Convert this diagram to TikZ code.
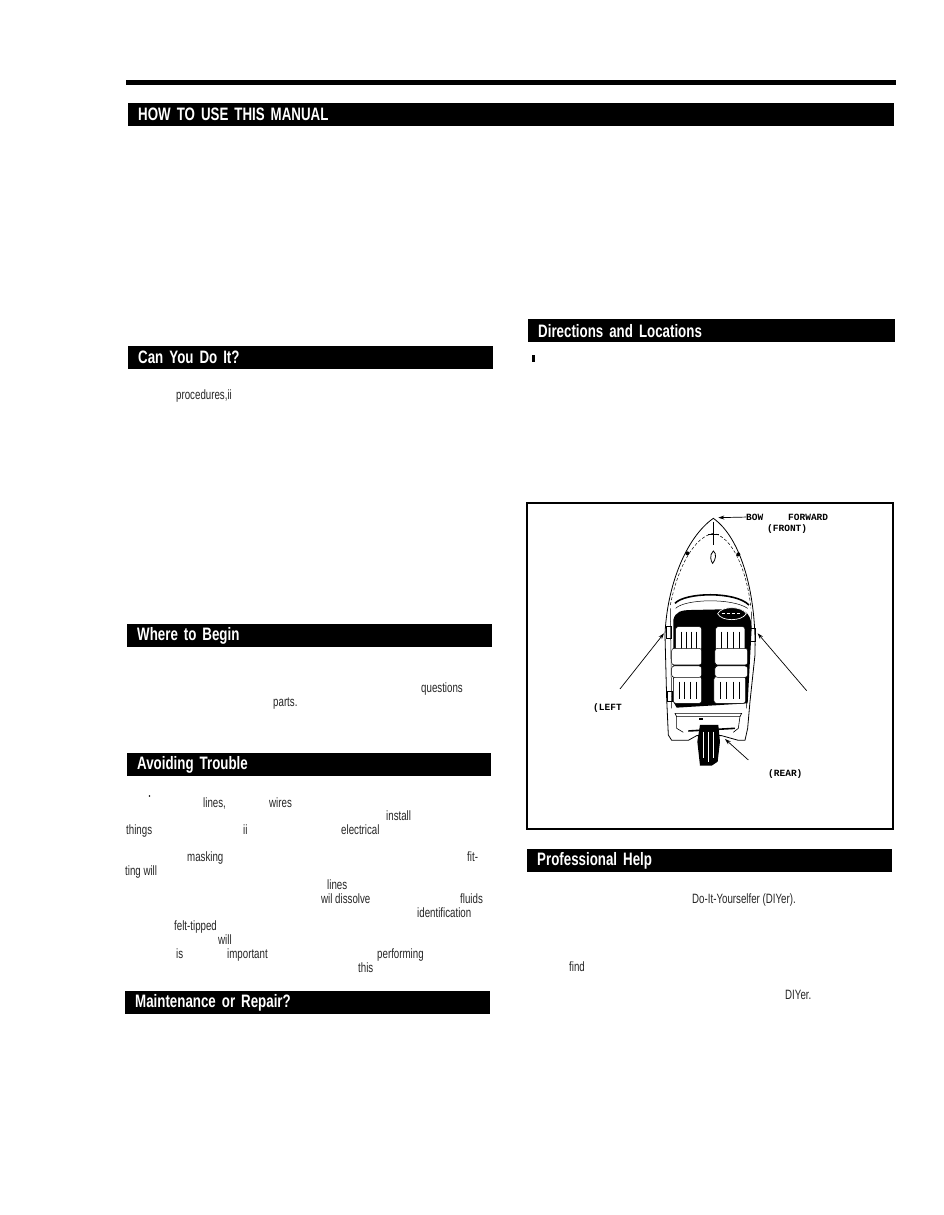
\documentclass[tikz,border=0pt]{standalone}
\usepackage{fontspec}
\usetikzlibrary{arrows.meta}
\newfontfamily\headfont[FakeStretch=0.74,WordSpace=0.8]{Liberation Sans Bold}
\newfontfamily\bodyfont[FakeStretch=0.72]{Liberation Sans}
\newfontfamily\tagfont{Liberation Mono Bold}
\tikzset{
	headbar/.style={fill=black, text=white, anchor=north west, inner ysep=0pt, inner xsep=10pt,
		text width=#1-20pt, minimum height=23pt, font=\headfont\fontsize{18}{18}\selectfont},
	word/.style={anchor=base west, inner sep=0pt, yshift=-4pt, text=black!85, font=\bodyfont\fontsize{13.5}{14}\selectfont},
	boattag/.style={anchor=base west, inner sep=0pt, yshift=-3pt, font=\tagfont\fontsize{9.5}{10}\selectfont},
	pointer/.style={-{Stealth[length=6pt,width=4pt]}, line width=0.7pt},
	seat/.style={draw, fill=white, rounded corners=2.5pt, line width=0.5pt}
}
\begin{document}
\begin{tikzpicture}[x=1pt, y=-1pt]
	\useasboundingbox (0,0) rectangle (944,1215);
	\fill[white] (0,0) rectangle (944,1215);
	\fill[black] (126,80) rectangle (896,85);

	\node[headbar=766pt] (manual)  at (128,103) {HOW TO USE THIS MANUAL};
	\node[headbar=365pt] (canyou)  at (128,346) {Can You Do It?};
	\node[headbar=365pt] (begin)   at (127,624) {Where to Begin};
	\node[headbar=364pt] (trouble) at (127,753) {Avoiding Trouble};
	\node[headbar=365pt] (repair)  at (125,991) {Maintenance or Repair?};
	\node[headbar=367pt] (where)   at (528,319) {Directions and Locations};
	\node[headbar=365pt] (help)    at (527,849) {Professional Help};

	\node[word] (w1)  at (176,395) {procedures,ii};
	\node[word] (w2)  at (421,688) {questions};
	\node[word] (w3)  at (273,702) {parts.};
	\node[word] (w4)  at (203,803) {lines,};
	\node[word] (w5)  at (269,803) {wires};
	\node[word] (w6)  at (386,816) {install};
	\node[word] (w7)  at (126,830) {things};
	\node[word] (w8)  at (243,830) {ii};
	\node[word] (w9)  at (341,830) {electrical};
	\node[word] (w10) at (187,857) {masking};
	\node[word] (w11) at (467,857) {fit-};
	\node[word] (w12) at (125,871) {ting will};
	\node[word] (w13) at (327,885) {lines};
	\node[word] (w14) at (321,899) {wil dissolve};
	\node[word] (w15) at (460,899) {fluids};
	\node[word] (w16) at (417,913) {identification};
	\node[word] (w17) at (174,926) {felt-tipped};
	\node[word] (w18) at (218,940) {will};
	\node[word] (w19) at (176,954) {is};
	\node[word] (w20) at (227,954) {important};
	\node[word] (w21) at (377,954) {performing};
	\node[word] (w22) at (358,968) {this};
	\node[word] (w23) at (692,899) {Do-It-Yourselfer (DIYer).};
	\node[word] (w24) at (569,967) {find};
	\node[word] (w25) at (785,995) {DIYer.};
	\fill[black] (532,355) rectangle (534.5,362);
	\fill[black] (149.5,796) circle (0.8);

	% frame round the boat
	\draw[line width=1.3pt] (527,503) rectangle (893,829);

	% boat, in a finer grid
	\begin{scope}[shift={(525,495)}, x=0.3333pt, y=-0.3333pt]
		\draw[line width=0.8pt, fill=white] (565,70) .. controls (480,130) and (425,280) .. (420,420)
			-- (425,610) -- (430,720) -- (440,736) -- (490,736) -- (515,722) -- (590,722) -- (640,736)
			-- (660,736) -- (668,700) -- (675,620) -- (690,480) .. controls (695,300) and (650,130) .. (565,70) -- cycle;
		\draw[line width=0.5pt, densely dashed] (436,330) .. controls (460,210) and (510,125) .. (565,115)
			.. controls (620,125) and (665,220) .. (678,340);
		\draw[line width=0.6pt] (565,80) -- (565,150) (548,118) -- (582,118);
		\draw[line width=0.8pt] (565,168) .. controls (552,180) and (558,200) .. (563,205)
			.. controls (572,195) and (576,175) .. (565,168) -- cycle;
		\fill (487,175) circle (2pt) (640,178) circle (2pt);
		% side rails and cleats
		\draw[line width=0.5pt] (436,340) -- (440,640) (680,350) -- (664,640);
		\draw[line width=0.7pt] (425,395) rectangle (438,430) (672,400) rectangle (690,440);
		\draw[line width=0.7pt] (428,590) rectangle (442,620);
		% windshield and cockpit
		\draw[line width=1.6pt] (450,325) .. controls (480,292) and (630,288) .. (672,330);
		\draw[line width=0.5pt] (452,340) .. controls (480,312) and (620,308) .. (668,340);
		\fill[black] (445,375) .. controls (450,350) and (470,345) .. (500,345) -- (640,342)
			.. controls (665,345) and (680,365) .. (680,400) -- (668,625) -- (455,638) -- (445,620) -- cycle;
		\draw[fill=black, draw=white, line width=0.7pt] (578,356) .. controls (590,332) and (650,332) .. (664,356)
			.. controls (650,380) and (590,380) .. (578,356) -- cycle;
		\draw[white, line width=1.2pt, densely dashed] (590,356) -- (650,356);
		% seats
		\foreach \sx/\sy/\sw in {452/395/78, 572/395/88, 445/545/85, 567/545/95} {
			\draw[seat] (\sx,\sy) rectangle ++(\sw,\ifnum\sy<500 72\else 80\fi);
			\foreach \k in {1,...,4}
				\draw[line width=0.4pt] ({\sx+\k*\sw/5},\sy+15) -- ({\sx+\k*\sw/5},\sy+68);
		}
		\foreach \sx/\sy/\sw in {440/460/90, 570/460/98, 440/513/90, 570/513/98}
			\draw[seat] (\sx,\sy) rectangle ++(\sw,\ifnum\sy<500 50\else 34\fi);
		% stern and motor
		\draw[line width=0.6pt] (450,655) -- (650,655) -- (645,665) -- (455,665) -- cycle;
		\draw[line width=0.6pt] (455,665) -- (455,700) -- (475,712) (645,665) -- (640,700) -- (625,712);
		\fill (523,668) rectangle (533,676);
		\draw[line width=1.6pt] (490,708) -- (630,700);
		\fill[black] (525,690) -- (580,690) -- (585,740) -- (578,800) -- (560,812) -- (525,812) -- (517,740) -- cycle;
		\draw[white, line width=0.4pt] (535,710) -- (535,790) (550,710) -- (550,800) (565,710) -- (565,790);
		\coordinate (bowtip)   at (580,68);
		\coordinate (portside) at (417,415);
		\coordinate (starside) at (698,415);
		\coordinate (sternend) at (600,732);
		\coordinate (portfoot) at (285,582);
		\coordinate (starfoot) at (845,587);
		\coordinate (sternfoot) at (670,795);
	\end{scope}

	\node[boattag] (bow)     at (746,517) {BOW};
	\node[boattag] (forward) at (788,517) {FORWARD};
	\node[boattag] (front)   at (767,528) {(FRONT)};
	\node[boattag] (port)    at (593,707) {(LEFT};
	\node[boattag] (rear)    at (768,773) {(REAR)};

	\draw[pointer] (bow) -- (bowtip);
	\draw[pointer] (portfoot) -- (portside);
	\draw[pointer] (starfoot) -- (starside);
	\draw[pointer] (sternfoot) -- (sternend);
\end{tikzpicture}
\end{document}
